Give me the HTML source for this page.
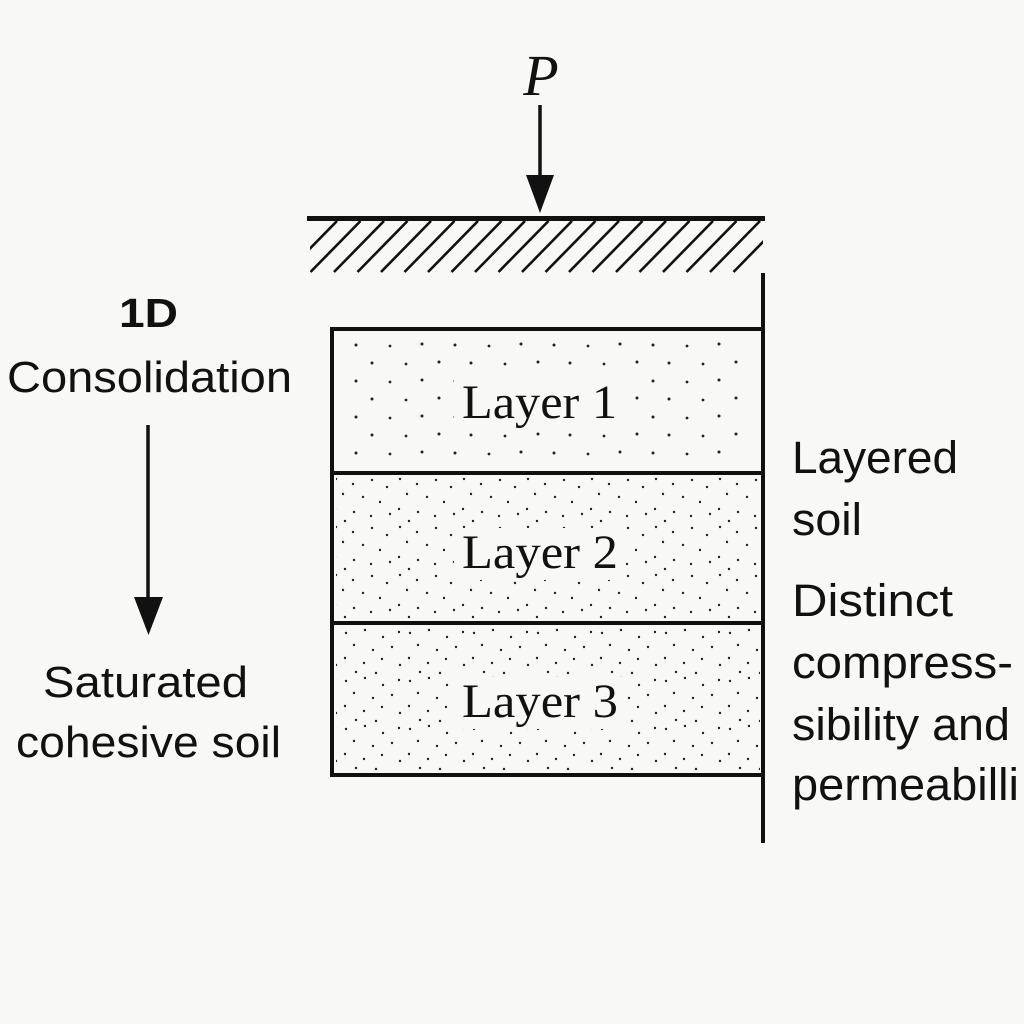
<!DOCTYPE html>
<html>
<head>
<meta charset="utf-8">
<style>
  html, body { margin:0; padding:0; background:#f8f8f6; }
  svg { display:block; }
</style>
</head>
<body>
<svg width="1024" height="1024" viewBox="0 0 1024 1024" xmlns="http://www.w3.org/2000/svg">
  <defs>
    <pattern id="dots1" x="350" y="341" width="99" height="36" patternUnits="userSpaceOnUse">
      <circle cx="6" cy="4" r="1.5" fill="#222"/>
      <circle cx="40" cy="5" r="1.4" fill="#222"/>
      <circle cx="72" cy="3" r="1.5" fill="#222"/>
      <circle cx="22" cy="22" r="1.5" fill="#222"/>
      <circle cx="56" cy="23" r="1.4" fill="#222"/>
      <circle cx="89" cy="21" r="1.5" fill="#222"/>
    </pattern>
    <pattern id="dots2" x="332" y="476" width="64" height="48" patternUnits="userSpaceOnUse">
      <circle cx="4" cy="3" r="1.2" fill="#222"/>
      <circle cx="21" cy="8" r="1.2" fill="#222"/>
      <circle cx="40" cy="4" r="1.2" fill="#222"/>
      <circle cx="55" cy="11" r="1.2" fill="#222"/>
      <circle cx="11" cy="18" r="1.2" fill="#222"/>
      <circle cx="31" cy="21" r="1.2" fill="#222"/>
      <circle cx="48" cy="26" r="1.2" fill="#222"/>
      <circle cx="3" cy="33" r="1.2" fill="#222"/>
      <circle cx="22" cy="36" r="1.2" fill="#222"/>
      <circle cx="39" cy="40" r="1.2" fill="#222"/>
      <circle cx="58" cy="38" r="1.2" fill="#222"/>
      <circle cx="13" cy="45" r="1.2" fill="#222"/>
    </pattern>
    <pattern id="dots3" x="340" y="628" width="64" height="48" patternUnits="userSpaceOnUse">
      <circle cx="6" cy="5" r="1.2" fill="#222"/>
      <circle cx="25" cy="2" r="1.2" fill="#222"/>
      <circle cx="43" cy="9" r="1.2" fill="#222"/>
      <circle cx="59" cy="4" r="1.2" fill="#222"/>
      <circle cx="14" cy="17" r="1.2" fill="#222"/>
      <circle cx="33" cy="22" r="1.2" fill="#222"/>
      <circle cx="52" cy="19" r="1.2" fill="#222"/>
      <circle cx="5" cy="30" r="1.2" fill="#222"/>
      <circle cx="24" cy="35" r="1.2" fill="#222"/>
      <circle cx="42" cy="31" r="1.2" fill="#222"/>
      <circle cx="60" cy="37" r="1.2" fill="#222"/>
      <circle cx="16" cy="44" r="1.2" fill="#222"/>
      <circle cx="36" cy="45" r="1.2" fill="#222"/>
    </pattern>
    <clipPath id="hclip">
      <rect x="310" y="221" width="453" height="52"/>
    </clipPath>
  </defs>

  <rect x="0" y="0" width="1024" height="1024" fill="#f8f8f6"/>

  <!-- Load P -->
  <text x="541" y="95" font-family="'Liberation Serif', serif" font-style="italic" font-size="58" text-anchor="middle" fill="#111">P</text>
  <line x1="540" y1="105" x2="540" y2="180" stroke="#111" stroke-width="3.5"/>
  <polygon points="526,175 554,175 540,213" fill="#111"/>

  <!-- Ground surface -->
  <line x1="307" y1="218.5" x2="765" y2="218.5" stroke="#111" stroke-width="5"/>
  <g clip-path="url(#hclip)" stroke="#111" stroke-width="2.6">
    <line x1="337" y1="221" x2="287" y2="272"/>
    <line x1="360.5" y1="221" x2="310.5" y2="272"/>
    <line x1="384" y1="221" x2="334" y2="272"/>
    <line x1="407.5" y1="221" x2="357.5" y2="272"/>
    <line x1="431" y1="221" x2="381" y2="272"/>
    <line x1="454.5" y1="221" x2="404.5" y2="272"/>
    <line x1="478" y1="221" x2="428" y2="272"/>
    <line x1="501.5" y1="221" x2="451.5" y2="272"/>
    <line x1="525" y1="221" x2="475" y2="272"/>
    <line x1="548.5" y1="221" x2="498.5" y2="272"/>
    <line x1="572" y1="221" x2="522" y2="272"/>
    <line x1="595.5" y1="221" x2="545.5" y2="272"/>
    <line x1="619" y1="221" x2="569" y2="272"/>
    <line x1="642.5" y1="221" x2="592.5" y2="272"/>
    <line x1="666" y1="221" x2="616" y2="272"/>
    <line x1="689.5" y1="221" x2="639.5" y2="272"/>
    <line x1="713" y1="221" x2="663" y2="272"/>
    <line x1="736.5" y1="221" x2="686.5" y2="272"/>
    <line x1="760" y1="221" x2="710" y2="272"/>
    <line x1="783.5" y1="221" x2="733.5" y2="272"/>
  </g>

  <!-- Right boundary line -->
  <line x1="763" y1="273" x2="763" y2="843" stroke="#111" stroke-width="4"/>

  <!-- Layers fill -->
  <rect x="350" y="338" width="400" height="122" fill="url(#dots1)"/>
  <rect x="336" y="477" width="424" height="142" fill="url(#dots2)"/>
  <rect x="336" y="627" width="424" height="144" fill="url(#dots3)"/>

  <!-- Text clear areas -->
  <rect x="454" y="378" width="170" height="52" fill="#f8f8f6"/>
  <rect x="454" y="528" width="170" height="52" fill="#f8f8f6"/>
  <rect x="454" y="677" width="170" height="52" fill="#f8f8f6"/>

  <!-- Layers box -->
  <rect x="332" y="329" width="431" height="446" fill="none" stroke="#111" stroke-width="4"/>
  <line x1="332" y1="473" x2="763" y2="473" stroke="#111" stroke-width="4"/>
  <line x1="332" y1="623" x2="763" y2="623" stroke="#111" stroke-width="4"/>

  <g font-family="'Liberation Serif', serif" font-size="48" fill="#111">
    <text x="462" y="418" textLength="155" lengthAdjust="spacingAndGlyphs">Layer 1</text>
    <text x="462" y="568" textLength="156" lengthAdjust="spacingAndGlyphs">Layer 2</text>
    <text x="462" y="717" textLength="156" lengthAdjust="spacingAndGlyphs">Layer 3</text>
  </g>

  <!-- Left labels -->
  <g font-family="'Liberation Sans', sans-serif" fill="#111">
    <text x="119" y="327" font-weight="bold" font-size="41" textLength="59" lengthAdjust="spacingAndGlyphs">1D</text>
    <text x="7" y="392" font-size="44" textLength="285" lengthAdjust="spacingAndGlyphs">Consolidation</text>
    <text x="43" y="697" font-size="44" textLength="205" lengthAdjust="spacingAndGlyphs">Saturated</text>
    <text x="16" y="757" font-size="44" textLength="265" lengthAdjust="spacingAndGlyphs">cohesive soil</text>
  </g>
  <line x1="148" y1="425" x2="148" y2="600" stroke="#111" stroke-width="3.5"/>
  <polygon points="134,597 163,597 148.5,635" fill="#111"/>

  <!-- Right labels -->
  <g font-family="'Liberation Sans', sans-serif" font-size="45" fill="#111">
    <text x="792" y="473" textLength="166" lengthAdjust="spacingAndGlyphs">Layered</text>
    <text x="792" y="535" textLength="70" lengthAdjust="spacingAndGlyphs">soil</text>
    <text x="792" y="616" textLength="161" lengthAdjust="spacingAndGlyphs">Distinct</text>
    <text x="792" y="678" textLength="221" lengthAdjust="spacingAndGlyphs">compress-</text>
    <text x="792" y="740" textLength="218" lengthAdjust="spacingAndGlyphs">sibility and</text>
    <text x="792" y="800" textLength="227" lengthAdjust="spacingAndGlyphs">permeabilli</text>
  </g>
</svg>
</body>
</html>
